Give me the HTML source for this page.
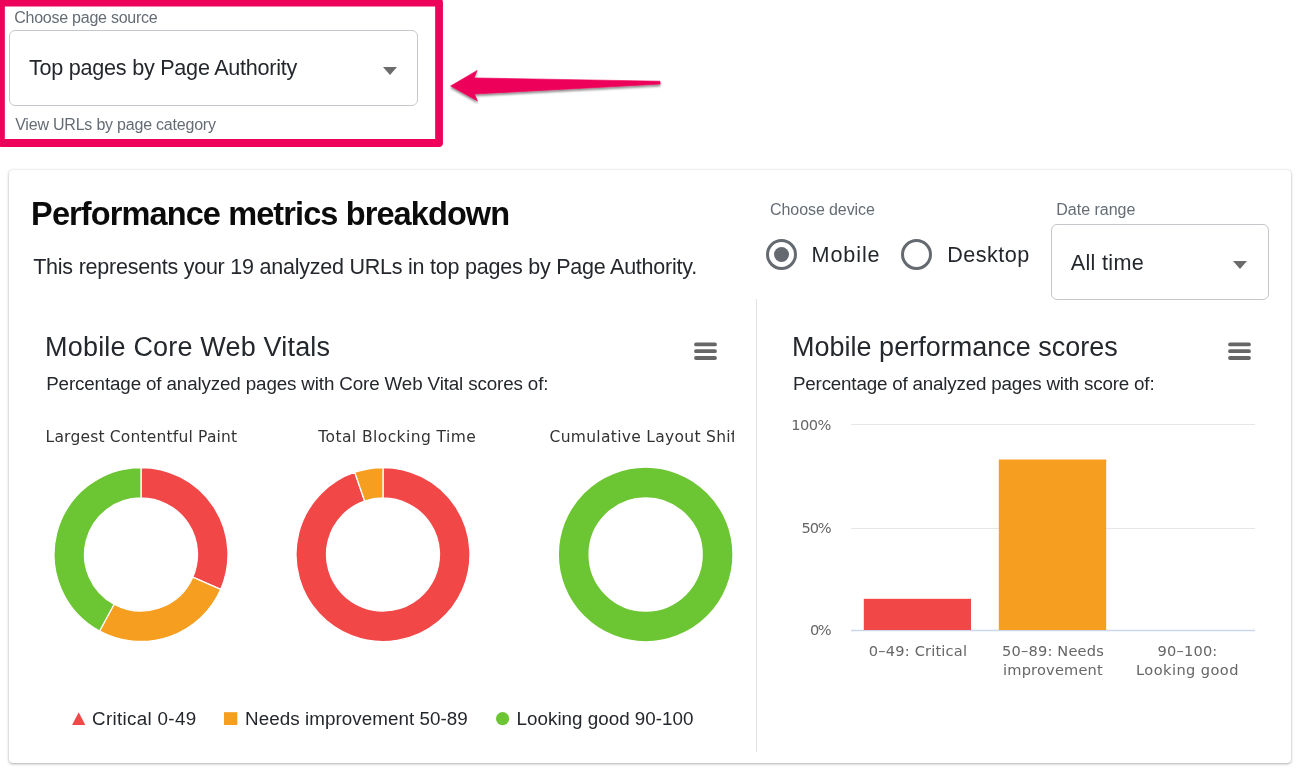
<!DOCTYPE html>
<html lang="en">
<head>
<meta charset="utf-8">
<title>Performance metrics breakdown</title>
<style>
html,body{margin:0;padding:0;background:#fff;}
body{width:1307px;height:777px;position:relative;overflow:hidden;font-family:"Liberation Sans",sans-serif;color:#24272c;}
.abs{position:absolute;white-space:nowrap;line-height:1;}
.lbl{color:#656c74;font-size:15px;}
.sel{position:absolute;border:1px solid #c4c8cc;border-radius:6px;box-sizing:border-box;background:#fff;}
.card{position:absolute;left:9px;top:169.5px;width:1282px;height:593px;border-radius:4px;background:#fff;box-shadow:0 1px 3px rgba(0,0,0,.30),0 0 2px rgba(0,0,0,.10);}
.h1{font-weight:700;font-size:31px;color:#0b0b0c;}
.sub{font-size:21px;}
.ct{font-size:27px;color:#24272c;}
.cs{font-size:18px;color:#24272c;}
.hc{font-family:"DejaVu Sans","Liberation Sans",sans-serif;}
.vline{position:absolute;left:756px;top:299px;width:1px;height:452.7px;background:#e3e3e3;}
.radio{position:absolute;width:31px;height:31px;border:3.2px solid #646a70;border-radius:50%;box-sizing:border-box;}
.radio.on::after{content:"";position:absolute;left:50%;top:50%;width:15.6px;height:15.6px;margin:-7.8px 0 0 -7.8px;border-radius:50%;background:#646a70;}
.rl{font-size:22px;color:#24272c;}
.tri{position:absolute;width:0;height:0;border-left:7.5px solid transparent;border-right:7.5px solid transparent;border-top:8.5px solid #6b6b6b;}
.ax{font-size:14.6px;color:#666;}
.yl{letter-spacing:-0.5px;}
.xl{width:200px;text-align:center;top:641.9px;line-height:18.7px;letter-spacing:0.18px;}
.leg{font-size:18.5px;color:#24272c;}
</style>
</head>
<body>
<div class="card"></div>

<div class="abs lbl" id="t_cps" style="left:14.2px;top:10.2px;font-size:16.0px;letter-spacing:-0.24px;">Choose page source</div>
<div class="sel" style="left:9px;top:30px;width:409px;height:76px;"></div>
<div class="abs" id="t_top" style="left:29.0px;top:57.1px;font-size:21.6px;letter-spacing:-0.25px;color:#24272c;">Top pages by Page Authority</div>
<div class="tri" style="left:382.5px;top:67px;"></div>
<div class="abs lbl" id="t_view" style="left:15.2px;top:116.7px;font-size:16.0px;letter-spacing:-0.21px;">View URLs by page category</div>

<svg class="abs" style="left:0;top:0;" width="1307" height="777" viewBox="0 0 1307 777">
<defs><filter id="sh" x="-10%" y="-30%" width="120%" height="180%"><feGaussianBlur in="SourceAlpha" stdDeviation="1.2"/><feOffset dx="0" dy="2"/><feComponentTransfer><feFuncA type="linear" slope="0.45"/></feComponentTransfer><feMerge><feMergeNode/><feMergeNode in="SourceGraphic"/></feMerge></filter></defs>
<rect x="0.95" y="2.5" width="438.1" height="140.5" fill="none" stroke="#ed045a" stroke-width="7.8" stroke-linejoin="round"/>
<path d="M450.6 86 L477.2 70.4 L474 77.9 L660 81.2 L660.2 84.1 L474.4 94 L477.5 100.9 Z" fill="#ed045a" stroke="#ed045a" stroke-width="0.6" stroke-linejoin="round" filter="url(#sh)"/>
</svg>

<div class="abs h1" id="t_h1" style="left:31.1px;top:197.7px;font-size:32.5px;letter-spacing:-0.89px;">Performance metrics breakdown</div>
<div class="abs sub" id="t_sub" style="left:33.2px;top:256.5px;font-size:21.5px;letter-spacing:-0.23px;">This represents your 19 analyzed URLs in top pages by Page Authority.</div>

<div class="abs lbl" id="t_cd" style="left:770.1px;top:202.3px;font-size:16.0px;letter-spacing:-0.09px;">Choose device</div>
<div class="radio on" style="left:766px;top:239px;"></div>
<div class="abs rl" id="t_mob" style="left:811.6px;top:244.0px;font-size:21.6px;letter-spacing:0.88px;">Mobile</div>
<div class="radio" style="left:901px;top:239px;"></div>
<div class="abs rl" id="t_desk" style="left:947.2px;top:244.0px;font-size:21.6px;letter-spacing:0.47px;">Desktop</div>
<div class="abs lbl" id="t_dr" style="left:1056.3px;top:201.8px;font-size:16.0px;letter-spacing:-0.02px;">Date range</div>
<div class="sel" style="left:1051px;top:224px;width:218px;height:76px;"></div>
<div class="abs" id="t_all" style="left:1070.8px;top:252.4px;font-size:21.6px;letter-spacing:0.31px;color:#24272c;">All time</div>
<div class="tri" style="left:1232.5px;top:260.5px;"></div>

<div class="vline"></div>

<div class="abs ct" id="t_cwv" style="left:45.1px;top:333.7px;font-size:27.0px;letter-spacing:0.18px;">Mobile Core Web Vitals</div>
<div class="abs cs" id="t_cwvs" style="left:46.2px;top:374.6px;font-size:18.8px;letter-spacing:-0.13px;">Percentage of analyzed pages with Core Web Vital scores of:</div>
<div class="abs ct" id="t_mps" style="left:792.0px;top:333.7px;font-size:27.0px;letter-spacing:0.01px;">Mobile performance scores</div>
<div class="abs cs" id="t_mpss" style="left:793.0px;top:374.5px;font-size:18.8px;letter-spacing:-0.19px;">Percentage of analyzed pages with score of:</div>

<svg class="abs" style="left:0;top:0;" width="1307" height="777" viewBox="0 0 1307 777">
<g stroke="#666" stroke-width="3.8" stroke-linecap="round">
<path d="M696 344.4H715M696 351.2H715M696 358H715"/>
<path d="M1230 344.4H1249M1230 351.2H1249M1230 358H1249"/>
</g>
<path d="M141.00 467.50A87 87 0 0 1 220.67 589.45L192.74 577.20A56.5 56.5 0 0 0 141.00 498.00Z" fill="#f24747" stroke="#fff" stroke-width="1.3" stroke-linejoin="round"/>
<path d="M220.67 589.45A87 87 0 0 1 99.59 631.01L114.11 604.19A56.5 56.5 0 0 0 192.74 577.20Z" fill="#f59e1f" stroke="#fff" stroke-width="1.3" stroke-linejoin="round"/>
<path d="M99.59 631.01A87 87 0 0 1 141.00 467.50L141.00 498.00A56.5 56.5 0 0 0 114.11 604.19Z" fill="#6cc532" stroke="#fff" stroke-width="1.3" stroke-linejoin="round"/>
<path d="M383.00 467.50A87 87 0 1 1 354.75 472.21L364.65 501.06A56.5 56.5 0 1 0 383.00 498.00Z" fill="#f24747" stroke="#fff" stroke-width="1.3" stroke-linejoin="round"/>
<path d="M354.75 472.21A87 87 0 0 1 383.00 467.50L383.00 498.00A56.5 56.5 0 0 0 364.65 501.06Z" fill="#f59e1f" stroke="#fff" stroke-width="1.3" stroke-linejoin="round"/>
<circle cx="645.65" cy="554.5" r="71.95" fill="none" stroke="#6cc532" stroke-width="29.5"/>
<g stroke="#e6e6e6" stroke-width="1">
<path d="M851 424.5H1255M851 528.5H1255"/>
</g>
<path d="M851 630.5H1255" stroke="#ccd6eb" stroke-width="1.5"/>
<rect x="863.8" y="598.8" width="107.2" height="31.2" fill="#f24747"/>
<rect x="998.8" y="459.5" width="107.4" height="170.5" fill="#f59e1f"/>
<path d="M78.7 712.2 L85.3 724.9 L72.1 724.9 Z" fill="#f24747"/>
<rect x="224" y="712.2" width="13.3" height="12.8" fill="#f59e1f"/>
<circle cx="502.6" cy="718.7" r="6.6" fill="#6cc532"/>
</svg>

<div class="abs hc" id="t_lcp" style="left:45.6px;top:430.4px;font-size:15.5px;letter-spacing:0.19px;color:#333;">Largest Contentful Paint</div>
<div class="abs hc" id="t_tbt" style="left:318.3px;top:430.4px;font-size:15.5px;letter-spacing:0.42px;color:#333;">Total Blocking Time</div>
<div class="abs hc" id="t_cls" style="left:549.6px;top:430.4px;font-size:15.5px;letter-spacing:0.3px;color:#333;width:184px;overflow:hidden;">Cumulative Layout Shift</div>

<div class="abs hc ax yl" id="t_y100" style="left:760.0px;top:417.9px;width:71px;text-align:right;">100%</div>
<div class="abs hc ax yl" id="t_y50" style="left:760.0px;top:520.9px;width:70.4px;letter-spacing:-1.2px;text-align:right;">50%</div>
<div class="abs hc ax yl" id="t_y0" style="left:760.0px;top:623.3px;width:70px;letter-spacing:-1.6px;text-align:right;">0%</div>

<div class="abs hc ax xl" id="t_x1" style="left:818.0px;">0–49: Critical</div>
<div class="abs hc ax xl" id="t_x2" style="left:953.0px;">50–89: Needs<br>improvement</div>
<div class="abs hc ax xl" id="t_x3" style="left:1087.5px;">90–100:<br><span style="letter-spacing:.42px">Looking good</span></div>

<div class="abs leg" id="t_l1" style="left:92.0px;top:709.7px;font-size:18.8px;letter-spacing:0.33px;">Critical 0-49</div>
<div class="abs leg" id="t_l2" style="left:245.1px;top:709.7px;font-size:18.8px;letter-spacing:0.06px;">Needs improvement 50-89</div>
<div class="abs leg" id="t_l3" style="left:516.6px;top:709.7px;font-size:18.8px;letter-spacing:0.02px;">Looking good 90-100</div>
</body>
</html>
